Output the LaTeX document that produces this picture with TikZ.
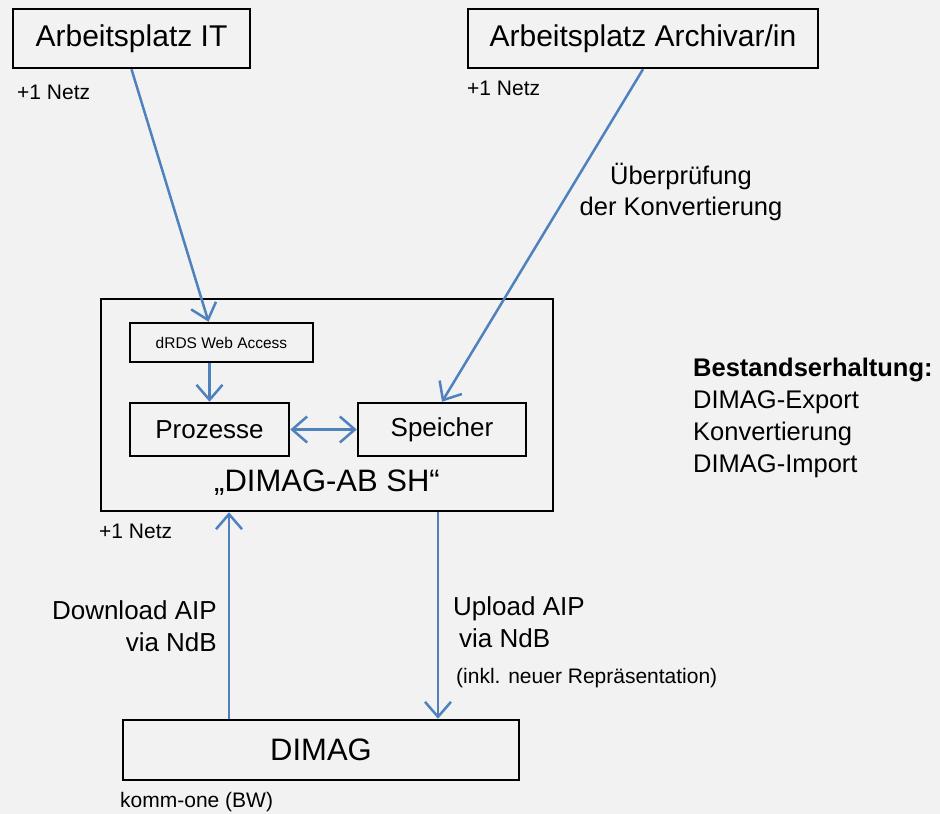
\documentclass[tikz,border=0pt]{standalone}
\usepackage{fontspec}
\setmainfont{Liberation Sans}
\usetikzlibrary{arrows.meta,positioning}
\definecolor{flowblue}{RGB}{79,129,189}
\definecolor{sheet}{RGB}{242,242,242}
\newcommand{\fsz}[2]{\fontsize{#1pt}{#2pt}\selectfont}

\begin{document}
\begin{tikzpicture}[x=1pt,y=-1pt]
        \tikzset{box/.style = {draw, line width=2.5pt, inner sep=0pt, font=\fsz{30}{36}},
                 flow/.style = {draw=flowblue, line width=2.5pt, -{Straight Barb[length=15pt,width=26pt]}},
                 flowboth/.style = {draw=flowblue, line width=2.5pt, {Straight Barb[length=15pt,width=26pt]}-{Straight Barb[length=15pt,width=26pt]}},
                 lbl/.style = {inner sep=0pt, font=\fsz{21}{25}}}
        \fill[sheet] (0,0) rectangle (940,814);
        \node[box, minimum width=237pt, minimum height=59pt] (it) at (131.5,38.5) {Arbeitsplatz IT};
        \node[box, minimum width=350pt, minimum height=59pt] (archiv) at (643,38.5) {Arbeitsplatz Archivar/in};
        \node[box, minimum width=452pt, minimum height=212pt] (ab) at (327,405) {};
        \node[box, font=\fsz{15.5}{18}, minimum width=183pt, minimum height=39pt] (drds) at (221.5,342.5) {dRDS Web Access};
        \node[box, font=\fsz{26}{30}, minimum width=159pt, minimum height=53pt] (proz) at (209.5,429.5) {Prozesse};
        \node[box, font=\fsz{26}{30}, minimum width=168pt, minimum height=53pt] (speicher) at (442,429.5) {Speicher};
        \node[inner sep=0pt, font=\fsz{31}{36}] (abname) at (327,483) {„DIMAG-AB SH“};
        \node[box, font=\fsz{31}{36}, minimum width=396pt, minimum height=60pt] (dimag) at (321,750) {DIMAG};
        \node[lbl, anchor=west] (netit) at (17,92) {+1 Netz};
        \node[lbl, anchor=west] (netarchiv) at (467,88) {+1 Netz};
        \node[lbl, anchor=west] (netab) at (99,531) {+1 Netz};
        \node[lbl, anchor=west] (komm) at (120,802) {komm-one (BW)};
        \node[inner sep=0pt, font=\fsz{25.5}{31}, align=center] (check) at (681,192) {Überprüfung\\der Konvertierung};
        \node[inner sep=0pt, font=\fsz{25.5}{32}, align=left, anchor=west] (bestand) at (693,418) {\textbf{Bestandserhaltung:}\\DIMAG-Export\\Konvertierung\\DIMAG-Import};
        \node[inner sep=0pt, font=\fsz{26}{32}, align=right, anchor=east] (dl) at (217,626) {Download AIP\\via NdB};
        \node[inner sep=0pt, font=\fsz{26}{32}, align=left, anchor=west] (ul) at (453,622) {Upload AIP\\\hspace*{6pt}via NdB};
        \node[lbl, anchor=west] (repr) at (456,678) {(inkl. neuer Repräsentation)};
        \coordinate (itin) at ([xshift=-13pt]drds.north);
        \coordinate (down) at ([xshift=-92pt]dimag.north);
        \coordinate (up) at ([xshift=111pt]ab.south);
        \draw[flow] (it.south) -- (itin);
        \draw[flow] (archiv.south) -- (speicher.north);
        \draw[flow] (drds.south -| proz.north) -- (proz.north);
        \draw[flowboth] (proz.east) -- (speicher.west);
        \draw[flow] (down) -- (down |- ab.south);
        \draw[flow] (up) -- (up |- dimag.north);
    \end{tikzpicture}
\end{document}
